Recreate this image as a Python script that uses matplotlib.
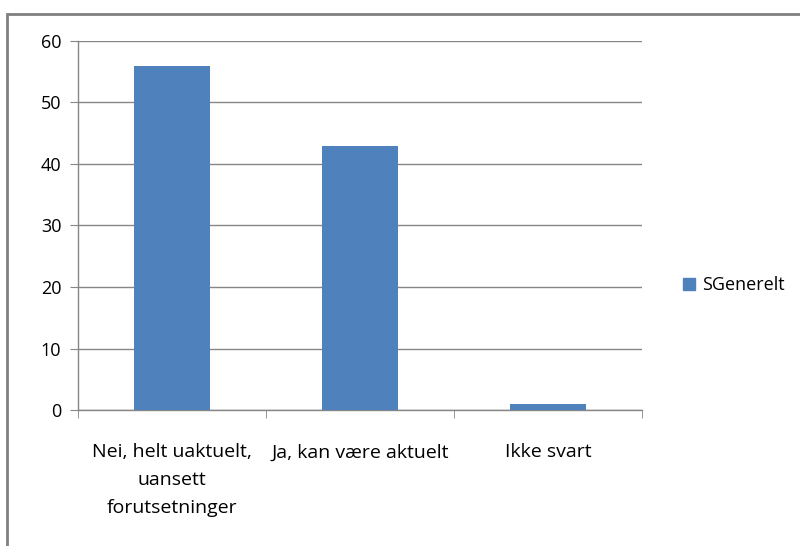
import matplotlib
matplotlib.use("Agg")
import matplotlib.pyplot as plt
from matplotlib.patches import Rectangle
import matplotlib.font_manager as fm

categories = ["Nei, helt uaktuelt,\nuansett\nforutsetninger", "Ja, kan være aktuelt", "Ikke svart"]
values = [56, 43, 1]
series_name = "SGenerelt"
yticks = [0, 10, 20, 30, 40, 50, 60]

avail = {f.name for f in fm.fontManager.ttflist}
fam = [f for f in ["Liberation Sans Narrow", "Open Sans", "DejaVu Sans"] if f in avail] or ["DejaVu Sans"]
plt.rcParams['font.family'] = fam

fig = plt.figure(figsize=(8, 5.46), dpi=100)
ax = fig.add_axes([0.0975, 0.249, 0.705, 0.676])

bar_color = "#4F81BD"
axis_color = "#868686"
x = list(range(len(categories)))
ax.bar(x, values, width=0.4, color=bar_color, label=series_name, zorder=3)
ax.set_xlim(-0.5, len(categories) - 0.5)
ax.set_ylim(0, 60)
ax.set_yticks(yticks)
ax.set_yticklabels([str(v) for v in yticks], fontsize=13)
ax.yaxis.grid(True, color=axis_color, linewidth=1)
ax.set_axisbelow(True)

ax.set_xticks(x)
ax.set_xticklabels(categories, fontsize=14, linespacing=1.7)
ax.tick_params(axis='x', length=0, pad=24)
ax.set_xticks([-0.5, 0.5, 1.5, 2.5], minor=True)
ax.tick_params(axis='x', which='minor', length=6, color=axis_color, direction='out')
ax.tick_params(axis='y', length=6, color=axis_color, direction='out', pad=6)

for s in ['top', 'right']:
    ax.spines[s].set_visible(False)
for s in ['left', 'bottom']:
    ax.spines[s].set_color(axis_color)
    ax.spines[s].set_linewidth(1)

fig.legend(handles=[Rectangle((0, 0), 1, 1, color=bar_color)], labels=[series_name],
           loc='center left', bbox_to_anchor=(0.834, 0.478), frameon=False,
           fontsize=13, handlelength=0.65, handleheight=0.65, handletextpad=0.4)

frame = Rectangle((7 / 800, -0.1), 1.2, 1 - 14 / 546 + 0.1, transform=fig.transFigure,
                  fill=False, edgecolor="#808080", linewidth=2, clip_on=False)
fig.add_artist(frame)

fig.savefig("out.png", dpi=100, facecolor="white")
